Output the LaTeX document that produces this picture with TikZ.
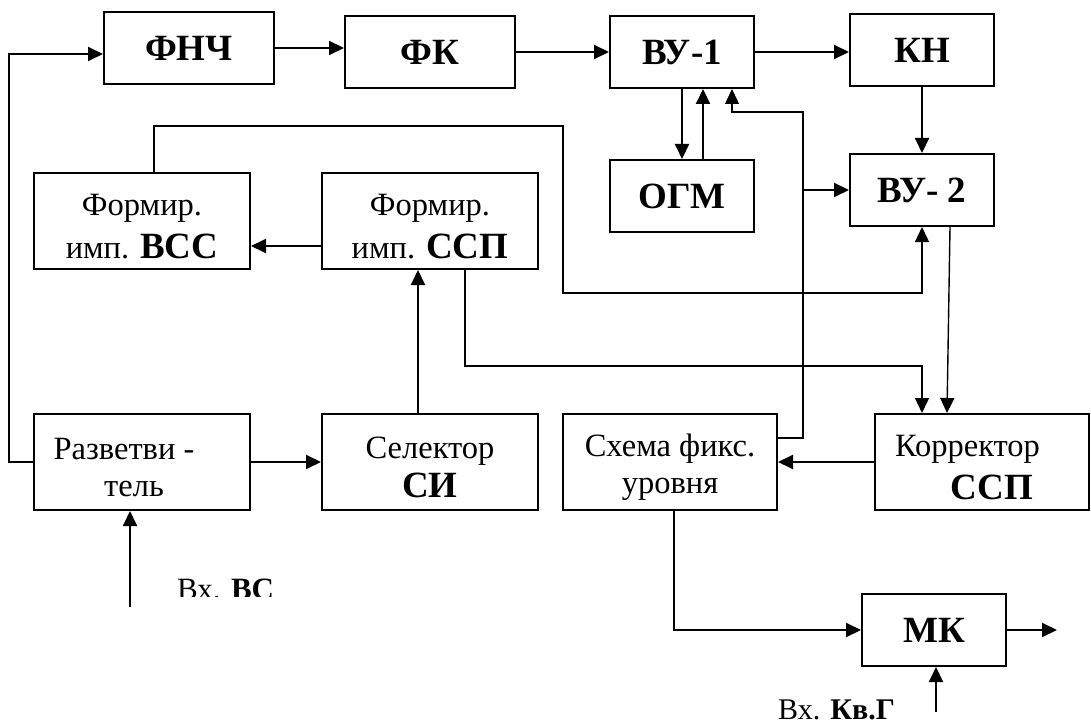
\documentclass[tikz,border=0pt]{standalone}
\usepackage{fontspec}
\setmainfont{Liberation Serif}
\usetikzlibrary{arrows.meta}
\newcommand{\bigbf}{\fontsize{37}{40}\selectfont\bfseries}
\newcommand{\tstrut}{\rule{0pt}{33pt}}

\begin{document}
\begin{tikzpicture}[x=1pt, y=-1pt,
  font=\fontsize{32.5}{37}\selectfont,
  blk/.style={draw, line width=2pt, inner sep=0pt, align=center},
  bold/.style={blk, font=\bigbf, minimum width=144pt, minimum height=72pt},
  wide/.style={blk, minimum width=216pt, minimum height=96pt},
  arr/.style={line width=2pt, -{Triangle[length=15pt, width=14pt]}},
  fb/.style={line width=1.4pt}]
  \useasboundingbox (0,0) rectangle (1091,727);
  % top row
  \node[bold, minimum width=170pt] (fnch) at (189,48) {ФНЧ};
  \node[bold, minimum width=170pt] (fk) at (430,52) {ФК};
  \node[bold] (vu1) at (682,52) {ВУ-1};
  \node[bold] (kn) at (922,50) {КН};
  % second row
  \node[bold] (ogm) at (682,196) {ОГМ};
  \node[bold] (vu2) at (922,190) {ВУ- 2};
  \node[wide] (vss) at (142,221) {\tstrut Формир.\\[6pt]имп. {\bigbf ВСС}};
  \node[wide] (ssp) at (430,221) {\tstrut Формир.\\[6pt]имп. {\bigbf ССП}};
  % third row
  \node[wide] (razv) at (142,462) {\tstrut Разветви -\hspace*{36pt}\\тель\hspace*{16pt}};
  \node[wide] (sel) at (430,462) {\tstrut Селектор\\[2pt]{\bigbf СИ}};
  \node[wide, minimum width=214pt] (shema) at (670,462) {\tstrut Схема фикс.\\уровня};
  \node[wide, minimum width=214pt] (korr) at (982,462) {\tstrut Корректор\hspace*{29pt}\\[6pt]\hspace*{20pt}{\bigbf ССП}};
  % bottom
  \node[bold] (mk) at (934,630) {МК};
  \coordinate (inVS) at (130,607);
  \coordinate (inKG) at (936,712);
  \coordinate (out) at (1057,630);
  \coordinate (fbk) at (803,112);
  \coordinate (vssturn) at (563,293);
  \coordinate (sspturn) at (922,366);
  % main chain
  \draw[arr] (razv.west) -- ++(-24,0) |- ([yshift=-6pt]fnch.west);
  \draw[arr] (fnch.east) -- (fnch.east -| fk.west);
  \draw[arr] (fk.east) -- (fk.east -| vu1.west);
  \draw[arr] (vu1.east) -- (vu1.east -| kn.west);
  \draw[arr] (vu1.south) -- (vu1.south |- ogm.north);
  \draw[arr] ([xshift=21pt]ogm.north) -- ([xshift=21pt]ogm.north |- vu1.south);
  \draw[arr] (kn.south) -- (vu2.north);
  \draw[arr, fb] ([xshift=28pt]vu2.south) -- ([xshift=-35pt]korr.north);
  \draw[arr] (korr.west) -- (shema.east);
  \draw[arr] (razv.east) -- (sel.west);
  \draw[arr] ([xshift=-12pt]sel.north) -- ([xshift=-12pt]ssp.south);
  \draw[arr] ([yshift=-25pt]ssp.west) -- ([yshift=-25pt]vss.east);
  % feedback lines
  \draw[arr, fb] ([yshift=24pt]shema.east) -| (fbk) -| ([xshift=50pt]vu1.south);
  \draw[arr] (fbk |- vu2.west) -- (vu2.west);
  \draw[arr, fb] ([xshift=12pt]vss.north) |- (563,126) -- (vssturn) -| (vu2.south);
  \draw[arr, fb] ([xshift=35pt]ssp.south) |- (sspturn) -- (sspturn |- korr.north);
  % inputs and output
  \draw[arr] (inVS) -- (inVS |- razv.south);
  \draw[arr] ([xshift=4pt]shema.south) |- (mk.west);
  \draw[arr] (mk.east) -- (out);
  \draw[arr] (inKG) -- (inKG |- mk.south);
  \begin{scope}
    \clip (150,560) rectangle (320,596);
    \node[anchor=base west, inner sep=0pt, font=\fontsize{31}{34}\selectfont] (lblVS) at (177,599) {Вх. \textbf{ВС}};
  \end{scope}
  \node[anchor=base west, inner sep=0pt, font=\fontsize{30}{34}\selectfont] (lblKG) at (778,719) {Вх. \textbf{Кв.Г}};
\end{tikzpicture}
\end{document}
